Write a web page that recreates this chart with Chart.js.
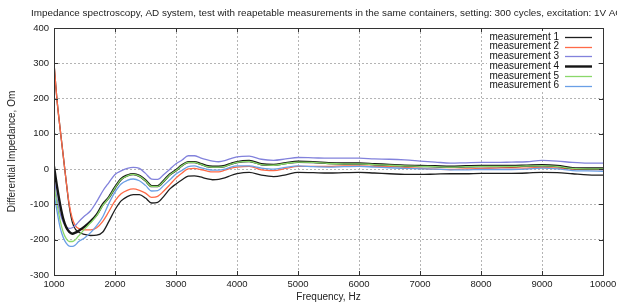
<!DOCTYPE html>
<html>
<head>
<meta charset="utf-8">
<script src="https://cdn.jsdelivr.net/npm/chart.js@4"></script>
<style>
  body { margin: 0; background: #fff; }
</style>
</head>
<body>
<canvas id="impChart" width="617" height="305"></canvas>
<script>
const chartTitle = "Impedance spectroscopy, AD system, test with reapetable measurements in the same containers, setting: 300 cycles, excitation: 1V AC";
const seriesNames = ["measurement 1", "measurement 2", "measurement 3", "measurement 4", "measurement 5", "measurement 6"];

const frequencies = [
    1000, 1050, 1100, 1150, 1200, 1250, 1300, 1350, 1400, 1500,
    1600, 1700, 1800, 1900, 2000, 2100, 2200, 2300, 2400, 2500,
    2600, 2700, 2800, 2900, 3000, 3100, 3200, 3300, 3400, 3500,
    3600, 3700, 3800, 3900, 4000, 4200, 4400, 4600, 4800, 5000,
    5250, 5500, 5750, 6000, 6250, 6500, 6750, 7000, 7250, 7500,
    7750, 8000, 8250, 8500, 8750, 9000, 9250, 9500, 9750, 10000
];

const m1 = [
    300, 195, 115, 40, -35, -105, -150, -170, -178, -185,
    -188, -187, -178, -148, -115, -90, -78, -72, -72, -82,
    -96, -94, -77, -56, -42, -30, -20, -19, -22, -27,
    -30, -29, -25, -18, -13, -9, -17, -21, -16, -9,
    -10, -11, -10, -9, -11, -13, -15, -15, -14, -13,
    -13, -12, -12, -12, -11, -9, -10, -13, -16, -17
];
const m2 = [
    300, 195, 115, 40, -35, -100, -140, -160, -168, -172,
    -172, -166, -148, -120, -90, -70, -60, -56, -60, -68,
    -80, -77, -62, -44, -25, -11, 1, 2, -1, -5,
    -8, -8, -3, 3, 6, 8, -2, -4, 2, 8,
    8, 8, 9, 9, 8, 7, 5, 2, 0, -1,
    1, 2, 3, 4, 3, 5, 3, 0, -1, -1
];
const m3 = [
    -25, -85, -125, -150, -163, -168, -166, -160, -150, -133,
    -118, -92, -62, -38, -15, -5, 2, 5, 2, -12,
    -28, -29, -15, 0, 15, 26, 38, 38, 32, 27,
    23, 21, 24, 30, 35, 37, 28, 25, 29, 33,
    32, 31, 31, 31, 29, 28, 26, 23, 20, 17,
    18, 19, 19, 20, 21, 25, 23, 19, 17, 17
];
const m4 = [
    8, -50, -100, -140, -165, -178, -183, -180, -175, -163,
    -148, -129, -100, -80, -52, -28, -18, -14, -19, -32,
    -48, -48, -33, -15, -3, 11, 20, 20, 15, 9,
    7, 7, 9, 15, 20, 23, 14, 12, 17, 21,
    20, 17, 16, 16, 14, 12, 10, 9, 8, 7,
    8, 9, 9, 9, 10, 11, 9, 3, 2, 2
];
const m5 = [
    -45, -100, -145, -178, -197, -205, -205, -200, -190, -170,
    -152, -132, -103, -81, -53, -29, -19, -15, -20, -33,
    -49, -49, -34, -16, -4, 10, 19, 19, 14, 8,
    6, 6, 8, 14, 19, 22, 13, 11, 16, 20,
    19, 16, 15, 15, 13, 11, 9, 8, 7, 6,
    7, 8, 8, 8, 9, 10, 8, 2, 1, 1
];
const m6 = [
    -70, -120, -165, -193, -210, -218, -219, -215, -206, -195,
    -180, -160, -135, -97, -65, -42, -32, -28, -33, -46,
    -62, -61, -46, -30, -14, -3, 7, 9, 4, 0,
    -3, -3, 0, 6, 9, 9, 3, 0, 5, 9,
    7, 6, 7, 8, 6, 4, 2, 1, 0, -2,
    -2, -1, -1, -1, 0, 3, 1, -4, -5, -6
];

const seriesValues = [m1, m2, m3, m4, m5, m6];
const seriesColors = ["#1e1e1e", "#ff6a48", "#8282dc", "#141414", "#8ad86a", "#6a9fe6"];
const seriesWidths = [1.3, 1.3, 1.3, 2.4, 1.3, 1.3];

const yTicks = [-300, -200, -100, 0, 100, 200, 300, 400];
const xTicks = [1000, 2000, 3000, 4000, 5000, 6000, 7000, 8000, 9000, 10000];

const FONT = "'Liberation Sans', Arial, sans-serif";

// title, frame with inward ticks and gnuplot-like key
const decorations = {
    id: "decorations",
    afterDatasetsDraw(chart) {
        const ctx = chart.ctx;
        const a = chart.chartArea;
        const xs = chart.scales.x;
        const ys = chart.scales.y;
        ctx.save();

        // frame
        ctx.strokeStyle = "#333";
        ctx.lineWidth = 1;
        ctx.strokeRect(Math.round(a.left) + 0.5, Math.round(a.top) + 0.5,
            Math.round(a.right - a.left), Math.round(a.bottom - a.top));

        // small inward ticks, mirrored
        ctx.beginPath();
        xTicks.forEach(v => {
            const px = Math.round(xs.getPixelForValue(v)) + 0.5;
            ctx.moveTo(px, a.bottom); ctx.lineTo(px, a.bottom - 4);
            ctx.moveTo(px, a.top); ctx.lineTo(px, a.top + 4);
        });
        yTicks.forEach(v => {
            const py = Math.round(ys.getPixelForValue(v)) + 0.5;
            ctx.moveTo(a.left, py); ctx.lineTo(a.left + 4, py);
            ctx.moveTo(a.right, py); ctx.lineTo(a.right - 4, py);
        });
        ctx.stroke();

        // key
        const keyRight = a.right - 44;
        const rowH = 9.7;
        const firstRow = a.top + 9;
        ctx.fillStyle = "#fff";
        ctx.fillRect(keyRight - 72, a.top + 3, a.right - keyRight + 66, rowH * 6 + 2);
        ctx.font = "10px " + FONT;
        ctx.textAlign = "right";
        ctx.textBaseline = "middle";
        chart.data.datasets.forEach((ds, i) => {
            const y = firstRow + i * rowH;
            ctx.fillStyle = "#111";
            ctx.fillText(ds.label, keyRight, y);
            ctx.strokeStyle = ds.borderColor;
            ctx.lineWidth = ds.borderWidth;
            ctx.beginPath();
            ctx.moveTo(keyRight + 6, Math.round(y) + 0.5);
            ctx.lineTo(keyRight + 33, Math.round(y) + 0.5);
            ctx.stroke();
        });

        // title (wider than the canvas, clipped on the right like the original)
        ctx.fillStyle = "#222";
        ctx.font = "9.9px " + FONT;
        ctx.textAlign = "left";
        ctx.textBaseline = "middle";
        ctx.fillText(chartTitle, 31, 13);

        ctx.restore();
    }
};

const ctx = document.getElementById("impChart").getContext("2d");

const chart = new Chart(ctx, {
    type: "line",
    data: {
        datasets: seriesValues.map((vals, i) => ({
            label: seriesNames[i],
            data: frequencies.map((f, j) => ({ x: f, y: vals[j] })),
            borderColor: seriesColors[i],
            backgroundColor: seriesColors[i],
            borderWidth: seriesWidths[i],
            pointRadius: 0,
            cubicInterpolationMode: "monotone",
            fill: false,
            order: seriesValues.length - i
        }))
    },
    options: {
        responsive: false,
        animation: false,
        events: [],
        layout: {
            padding: { top: 28, right: 14, left: 0, bottom: 0 }
        },
        plugins: {
            legend: { display: false },
            title: { display: false },
            tooltip: { enabled: false }
        },
        scales: {
            x: {
                type: "linear",
                min: 1000,
                max: 10000,
                afterBuildTicks: s => { s.ticks = xTicks.map(v => ({ value: v })); },
                afterFit: s => {
                    s.height = 30;
                    s.paddingLeft = 0;
                    s.paddingRight = 0;
                },
                grid: { color: "#b4b4b4", lineWidth: 1, drawTicks: false },
                border: { display: false, dash: [2, 2] },
                ticks: {
                    color: "#222",
                    font: { family: FONT, size: 9.5 },
                    padding: 4,
                    maxRotation: 0,
                    autoSkip: false,
                    callback: v => String(v)
                },
                title: {
                    display: true,
                    text: "Frequency, Hz",
                    color: "#222",
                    font: { family: FONT, size: 10 },
                    padding: { top: 0, bottom: 2 }
                }
            },
            y: {
                min: -300,
                max: 400,
                afterBuildTicks: s => { s.ticks = yTicks.map(v => ({ value: v })); },
                afterFit: s => {
                    s.width = 54;
                    s.paddingTop = 0;
                    s.paddingBottom = 0;
                },
                grid: { color: "#b4b4b4", lineWidth: 1, drawTicks: false },
                border: { display: false, dash: [2, 2] },
                ticks: {
                    color: "#222",
                    font: { family: FONT, size: 9.5 },
                    padding: 5,
                    callback: v => String(v)
                },
                title: {
                    display: true,
                    text: "Differential Impedance, Om",
                    color: "#222",
                    font: { family: FONT, size: 10 },
                    padding: { top: 6, bottom: 0 }
                }
            }
        }
    },
    plugins: [decorations]
});
</script>
</body>
</html>
